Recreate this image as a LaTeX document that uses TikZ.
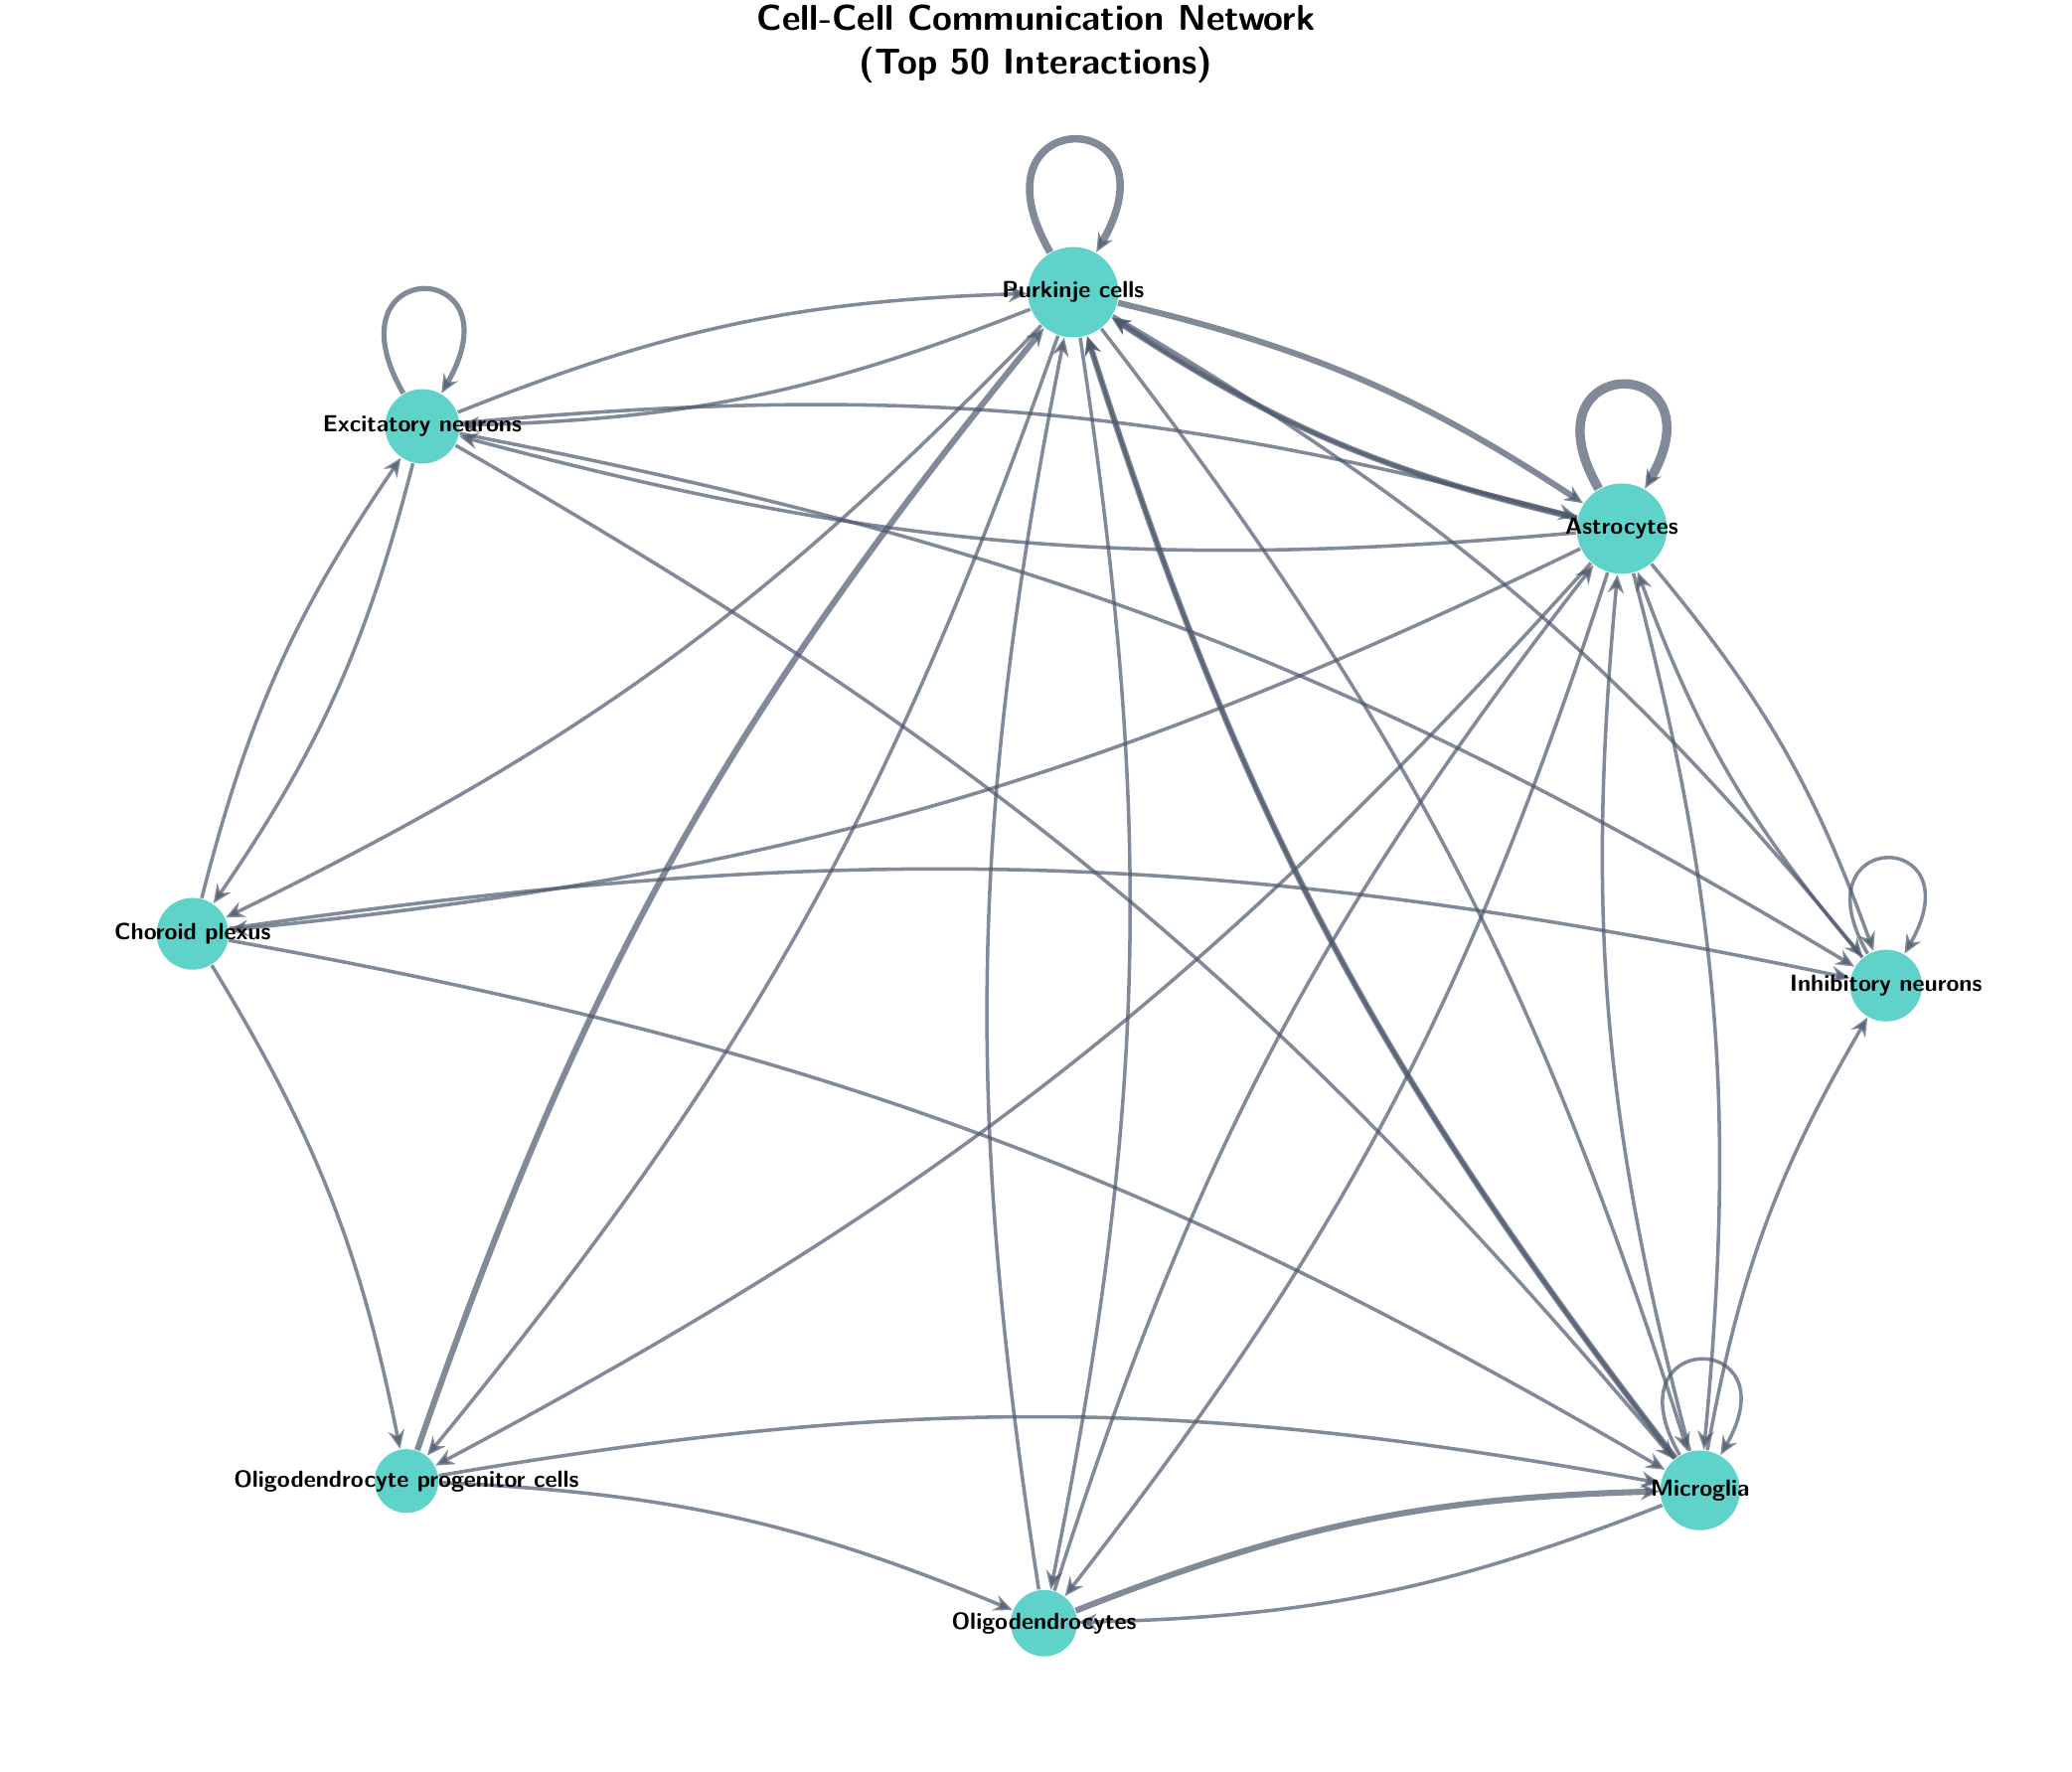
\documentclass[tikz,border=0pt]{standalone}
\usetikzlibrary{arrows.meta}
\definecolor{cellteal}{RGB}{78,205,196}
\definecolor{linkgray}{RGB}{75,88,108}
\tikzset{
  cell/.style={circle,fill=cellteal,opacity=0.9,inner sep=0pt},
  cellname/.style={font=\sffamily\bfseries\fontsize{5}{6}\selectfont},
  arc/.style={draw=linkgray,opacity=0.7,line width=0.75pt,-{Stealth[length=4pt,width=3.5pt]}},
  link/.style={arc,bend left=10},
  heavy/.style={link,line width=1.3pt},
  selfloop/.style={arc,loop,out=120,in=60,looseness=1,min distance=#1}
}
\begin{document}
\begin{tikzpicture}[x=0.01cm,y=-0.01cm]
\useasboundingbox (0,0) rectangle (1560,1334);
\node[font=\sffamily\bfseries\fontsize{7.7}{9.5}\selectfont,align=center] (title) at (780,33) {Cell-Cell Communication Network\\(Top 50 Interactions)};

\begin{scope}[every node/.style={cell}]
  \node[minimum size=0.68cm] (pur) at (808,220) {};
  \node[minimum size=0.56cm] (exc) at (318,321) {};
  \node[minimum size=0.68cm] (ast) at (1221,398) {};
  \node[minimum size=0.54cm] (cho) at (145,703) {};
  \node[minimum size=0.54cm] (inh) at (1420,742) {};
  \node[minimum size=0.60cm] (mic) at (1280,1122) {};
  \node[minimum size=0.48cm] (opc) at (306,1115) {};
  \node[minimum size=0.50cm] (oli) at (786,1222) {};
\end{scope}

% self loops
\path (pur) edge[selfloop=1.3cm,line width=1.6pt] (pur);
\path (exc) edge[selfloop=1.2cm,line width=1.1pt] (exc);
\path (ast) edge[selfloop=1.2cm,line width=2pt] (ast);
\path (inh) edge[selfloop=1.1cm] (inh);
\path (mic) edge[selfloop=1.1cm] (mic);

% links
\foreach \a/\b in {pur/exc,pur/cho,pur/opc,pur/oli,pur/mic,pur/inh,
  exc/pur,exc/ast,ast/exc,exc/cho,cho/exc,exc/inh,exc/mic,
  ast/pur,ast/cho,ast/oli,oli/ast,ast/mic,mic/ast,ast/inh,inh/ast,
  cho/inh,cho/mic,cho/opc,opc/mic,opc/oli,mic/oli,mic/inh,ast/opc,oli/pur,mic/pur}
  \draw[link] (\a) to (\b);
\foreach \a/\b in {pur/ast,ast/pur,opc/pur,mic/pur,oli/mic}
  \draw[heavy] (\a) to (\b);

% labels
\begin{scope}[every node/.style={cellname}]
  \node at (pur) {Purkinje cells};
  \node at (exc) {Excitatory neurons};
  \node at (ast) {Astrocytes};
  \node at (cho) {Choroid plexus};
  \node at (inh) {Inhibitory neurons};
  \node at (mic) {Microglia};
  \node at (opc) {Oligodendrocyte progenitor cells};
  \node at (oli) {Oligodendrocytes};
\end{scope}
\end{tikzpicture}
\end{document}
